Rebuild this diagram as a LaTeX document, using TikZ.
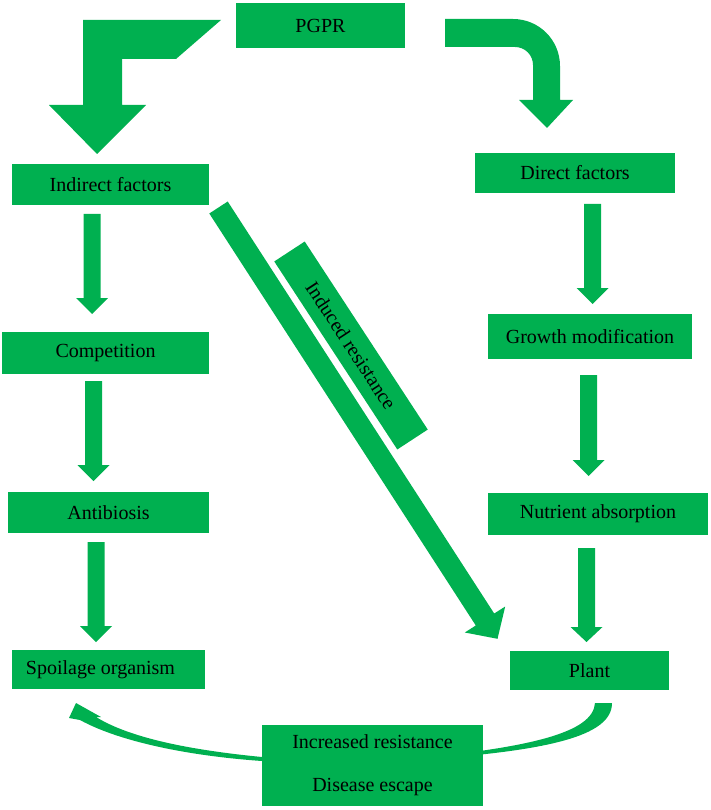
\documentclass[tikz,border=0pt]{standalone}
\usepackage{fontspec}
\setmainfont{Liberation Serif}
\definecolor{g}{RGB}{0,176,80}
\newcommand\varrow[4]{% center x, shaft top y, head base y, tip y
  \fill[g] (#1-8.5,#2) -- (#1+8.5,#2) -- (#1+8.5,#3) -- (#1+16,#3) -- (#1,#4) -- (#1-16,#3) -- (#1-8.5,#3) -- cycle;}
\begin{document}
\begin{tikzpicture}[x=1pt,y=-1pt,
  box/.style={fill=g, draw=none, inner sep=0pt, text=black, font=\fontsize{20}{24}\selectfont},
  blk/.style={fill=g, draw=none}]
\useasboundingbox (0,0) rectangle (710,810);

% bottom curved arrow (behind the bottom box)
\fill[g] (595,703) .. controls (593,733) and (530,748) .. (400,760) -- (400,761)
   .. controls (550,752) and (612,736) .. (612,703) -- cycle;
\fill[g] (262,757) .. controls (190,750) and (130,738) .. (96,717) -- (101,717) -- (76,703)
   -- (69,718) -- (80,720) .. controls (120,742) and (190,756) .. (262,761) -- cycle;

% boxes
\node[box, minimum width=169pt, minimum height=45pt] (pgpr) at (320.5,25.5) {PGPR};
\node[box, minimum width=197pt, minimum height=41pt] (ind) at (110.5,184.5) {Indirect factors};
\node[box, minimum width=200pt, minimum height=40pt] (dir) at (575,173) {Direct factors};
\node[box, minimum width=207pt, minimum height=42pt] (comp) at (105.5,353) {Competition};
\node[box, minimum width=204pt, minimum height=45pt] (grow) at (590,336.5) {Growth modification};
\node[box, minimum width=201pt, minimum height=41pt] (anti) at (108.5,512.5) {Antibiosis};
\node[box, minimum width=220pt, minimum height=42pt] (nutr) at (598,514) {Nutrient absorption};
\node[box, minimum width=193pt, minimum height=39pt] (spoil) at (108.5,669.5) {\hspace*{-16pt}Spoilage organism};
\node[box, minimum width=159pt, minimum height=39pt] (plant) at (589.5,670.5) {Plant};
\node[box, minimum width=221pt, minimum height=81pt, align=center] (bot) at (372.5,765.5)
  {Increased resistance\\[19pt]Disease escape};
\node[box, minimum width=224.7pt, minimum height=36.4pt, rotate=-56.8] (ir) at (351,345.5) {Induced resistance};

% top-left bent arrow
\fill[g] (83,20) -- (221,20) -- (176,59) -- (122,59) -- (122,105) -- (146,105) -- (97,154)
  -- (49,105) -- (83,105) -- cycle;
% top-right curved arrow
\fill[g] (445,19) -- (513,19) .. controls (539,19) and (560,40) .. (560,66) -- (560,100)
  -- (573,100) -- (547,128) -- (519,100) -- (533,100) -- (533,65)
  .. controls (533,55) and (525,47) .. (515,47) -- (445,47) -- cycle;
% diagonal arrow
\fill[g] (209.3,213.5) -- (475.8,625.5) -- (464.8,632.5) -- (497.5,638.8) -- (505.2,606.5)
  -- (494.2,613.5) -- (227.7,201.5) -- cycle;

% vertical arrows
\varrow{92}{214}{298}{314}
\varrow{592.5}{204}{288}{304}
\varrow{93.5}{381}{465}{481}
\varrow{588.5}{375}{460}{476}
\varrow{96}{542}{626}{642}
\varrow{586.5}{548}{627}{642}
\end{tikzpicture}
\end{document}
